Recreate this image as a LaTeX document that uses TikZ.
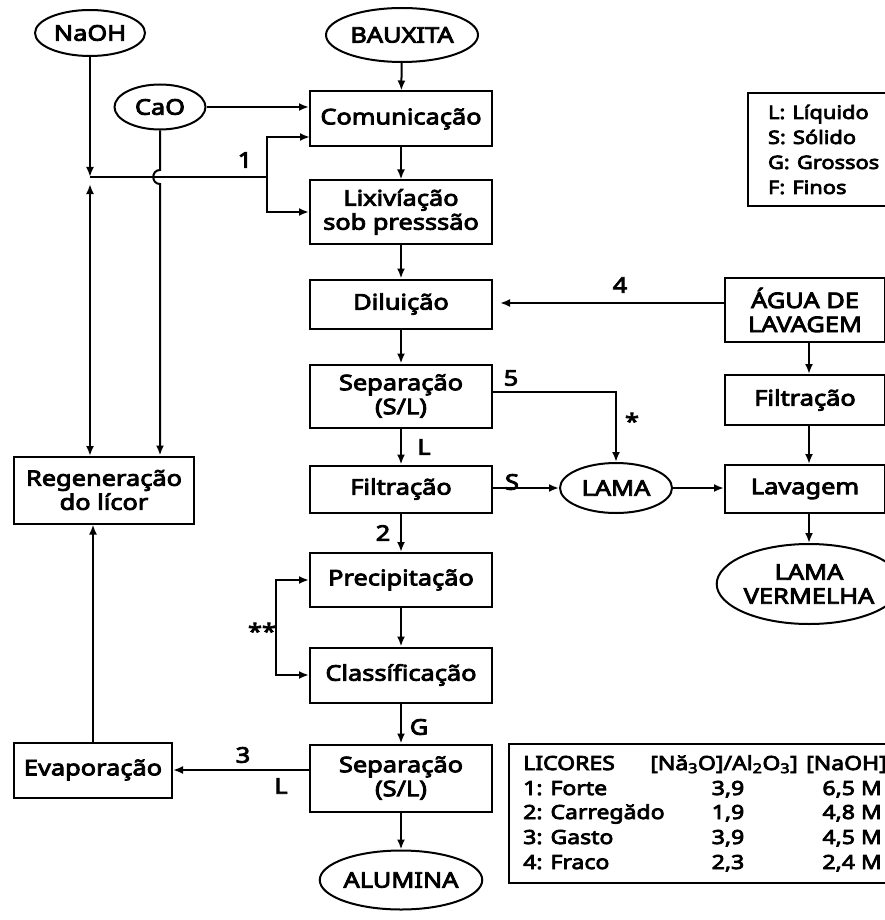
\documentclass[tikz,border=0pt]{standalone}
\usepackage{fontspec}
\setmainfont{Noto Sans}[AutoFakeBold=4, FakeStretch=1.18]
\usetikzlibrary{shapes.geometric, arrows.meta, positioning}

\tikzset{
	caixa/.style={draw, line width=2pt, minimum width=182pt, align=center, inner sep=2pt},
	oval/.style={draw, ellipse, line width=2pt, inner sep=0pt, align=center},
	rot/.style={inner sep=0pt},
	seta/.style={line width=2pt, -{Latex[length=10pt,width=8pt]}},
	dupla/.style={line width=2pt, {Latex[length=10pt,width=8pt]}-{Latex[length=10pt,width=8pt]}},
	linha/.style={line width=2pt}
}

\begin{document}
\begin{tikzpicture}[x=1pt, y=-1pt, font=\fontsize{21.5}{24}\selectfont\bfseries]
	\useasboundingbox (0,0) rectangle (885,920);
	\clip (0,0) rectangle (885,920);
	% entradas
	\node[oval, minimum width=110pt, minimum height=46pt] (naoh) at (90,33) {NaOH};
	\node[oval, minimum width=152pt, minimum height=54pt] (bauxita) at (402,35) {BAUXITA};
	\node[oval, minimum width=91pt, minimum height=45pt] (cao) at (160,107) {CaO};
	% coluna central
	\node[caixa, minimum height=55pt] (comun) at (401,119) {Comunicação};
	\node[caixa, minimum height=63pt] (lixiv) at (401,212) {Lixivíação\\sob presssão};
	\node[caixa, minimum height=49pt] (dilui) at (401,304) {Diluição};
	\node[caixa, minimum height=63pt] (sep1) at (401,396) {Separação\\(S/L)};
	\node[caixa, minimum height=47pt] (filt1) at (401,489) {Filtração};
	\node[caixa, minimum height=54pt] (precip) at (401,580) {Precipitação};
	\node[caixa, minimum height=55pt] (classif) at (401,675) {Classíficação};
	\node[caixa, minimum height=67pt] (sep2) at (401,778) {Separação\\(S/L)};
	\node[oval, minimum width=158pt, minimum height=59pt] (alumina) at (401,880) {ALUMINA};
	% coluna esquerda
	\node[caixa, minimum width=180pt, minimum height=67pt] (regen) at (104,490) {Regeneração\\do lícor};
	\node[caixa, minimum width=158pt, minimum height=55pt] (evap) at (93,770) {Evaporação};
	% coluna direita
	\node[caixa, minimum width=160pt, minimum height=64pt] (agua) at (805,310) {ÁGUA DE\\LAVAGEM};
	\node[caixa, minimum width=160pt, minimum height=50pt] (filt2) at (805,400) {Filtração};
	\node[caixa, minimum width=160pt, minimum height=48pt] (lavag) at (805,489) {Lavagem};
	\node[oval, minimum width=156pt, minimum height=80pt] (lamav) at (809,584) {LAMA\\VERMELHA};
	\node[oval, minimum width=112pt, minimum height=50pt] (lama) at (616,488) {LAMA};

	% legenda
	\node[draw, line width=2pt, anchor=north west, minimum width=140pt, minimum height=113pt, text width=124pt, align=left, inner sep=0pt] (legenda) at (747,92) {\hspace*{12pt}\begin{minipage}{125pt}\fontsize{18.5}{25}\selectfont L: Líquido\\S: Sólido\\G: Grossos\\F: Finos\end{minipage}};

	% tabela dos licores
	\node[draw, line width=2pt, anchor=north west, minimum width=385pt, minimum height=139pt] (tabela) at (508,743) {};
	\begin{scope}[every node/.style={rot, font=\fontsize{19.5}{20}\selectfont\bfseries}]
	\node[anchor=base west] (t0a) at (523,770) {LICORES};
	\node[anchor=base] (t0b) at (724,770) {[Nă\textsubscript{3}O]/Al\textsubscript{2}O\textsubscript{3}]};
	\node[anchor=base west] (t0c) at (806,770) {[NaOH]};
	\node[anchor=base west] (t1a) at (523,795) {1: Forte};
	\node[anchor=base] (t1b) at (728,795) {3,9};
	\node[anchor=base east] (t1c) at (882,795) {6,5 M};
	\node[anchor=base west] (t2a) at (523,819) {2: Carregădo};
	\node[anchor=base] (t2b) at (728,819) {1,9};
	\node[anchor=base east] (t2c) at (882,819) {4,8 M};
	\node[anchor=base west] (t3a) at (523,844) {3: Gasto};
	\node[anchor=base] (t3b) at (728,844) {3,9};
	\node[anchor=base east] (t3c) at (882,844) {4,5 M};
	\node[anchor=base west] (t4a) at (523,869) {4: Fraco};
	\node[anchor=base] (t4b) at (728,869) {2,3};
	\node[anchor=base east] (t4c) at (882,869) {2,4 M};
	\end{scope}

	% fluxo principal
	\draw[seta] (bauxita) -- (comun);
	\draw[seta] (comun) -- (lixiv);
	\draw[seta] (lixiv) -- (dilui);
	\draw[seta] (dilui) -- (sep1);
	\draw[seta] (sep1) -- (filt1);
	\draw[seta] (filt1) -- (precip);
	\draw[seta] (precip) -- (classif);
	\draw[seta] (classif) -- (sep2);
	\draw[seta] (sep2) -- (alumina);
	\node[rot] (rL1) at (424,447) {L};
	\node[rot] (r2) at (383,533) {2};
	\node[rot] (rG) at (419,727) {G};

	% CaO e licor forte (1)
	\draw[seta] (cao.east) -- (cao.east -| comun.west);
	\coordinate (j1) at (90,177);
	\coordinate (b1) at (267,177);
	\coordinate (c1) at (310,137);
	\draw[seta] (naoh) -- (j1);
	\draw[linha] (j1) -- (b1);
	\draw[seta] (b1) |- (c1);
	\draw[seta] (b1) |- (lixiv.west);
	\node[rot] (r1) at (245,160) {1};
	\draw[seta] (cao.south) -- (160,170) .. controls (151,170) and (151,184) .. (160,184) -- (cao.south |- regen.north);
	\draw[dupla] (90,184) -- (90,456);

	% licor gasto (3)
	\draw[seta] (sep2.west |- evap.east) -- (evap.east);
	\draw[seta] (evap.north) -- (evap.north |- regen.south);
	\node[rot] (r3) at (243,755) {3};
	\node[rot] (rL2) at (281,786) {L};

	% reciclo precipitacao
	\draw[dupla] (precip.west) -- ++(-33,0) |- (classif.west);
	\node[rot] (r22) at (262,631) {**};

	% lama
	\draw[seta] (sep1.east |- 0,392) -| (lama.north);
	\node[rot] (r5) at (511,378) {5};
	\node[rot] (rast) at (632,421) {*};
	\draw[seta] (filt1.east |- lama.west) -- (lama.west);
	\node[rot] (rS) at (512,482) {S};
	\draw[seta] (lama.east) -- (lama.east -| lavag.west);

	% agua de lavagem (4)
	\draw[seta, shorten >=7pt] (agua.west |- 0,303) -- (dilui.east |- 0,303);
	\node[rot] (r4) at (620,285) {4};
	\draw[seta] (agua.south -| 809,0) -- (filt2.north -| 809,0);
	\draw[seta] (filt2.south -| 809,0) -- (lavag.north -| 809,0);
	\draw[seta] (lavag.south -| 809,0) -- (lamav.north);
\end{tikzpicture}
\end{document}
